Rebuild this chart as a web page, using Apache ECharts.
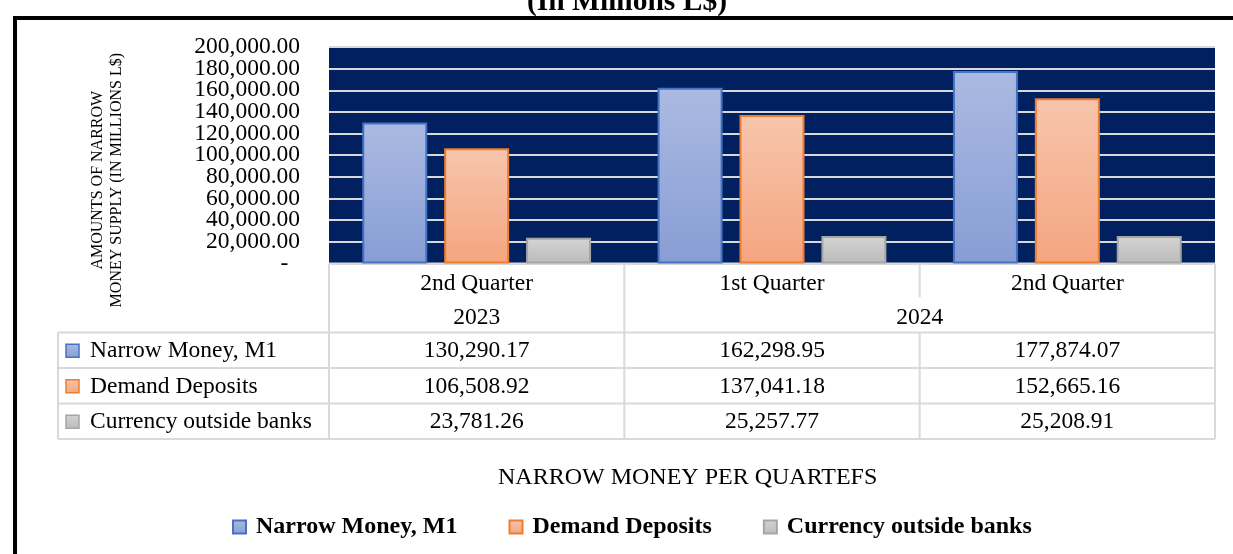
<!DOCTYPE html>
<html>
<head>
<meta charset="utf-8">
<title>Narrow Money per Quarter</title>
<script src="https://cdn.jsdelivr.net/npm/echarts@6/dist/echarts.min.js"></script>
<style>
  html, body { margin: 0; padding: 0; background: #fff; }
  #chart { width: 1233px; height: 554px; }
</style>
</head>
<body>
<div id="chart"></div>
<script>
// data
const quarters = ['2nd Quarter', '1st Quarter', '2nd Quarter'];
const years = ['2023', '2024', '2024'];
const seriesNames = ['Narrow Money, M1', 'Demand Deposits', 'Currency outside banks'];
const narrowMoney = [130290.17, 162298.95, 177874.07];
const demandDeposits = [106508.92, 137041.18, 152665.16];
const currencyOutside = [23781.26, 25257.77, 25208.91];
const yTicks = [0, 20000, 40000, 60000, 80000, 100000, 120000, 140000, 160000, 180000, 200000];

const seriesData = [narrowMoney, demandDeposits, currencyOutside];
const yMax = yTicks[yTicks.length - 1];
const yStep = yTicks[1] - yTicks[0];
const palette = [
  { top: '#abbae2', bottom: '#889dd5', border: '#4472c4' },
  { top: '#f7c5ac', bottom: '#f4a580', border: '#ed7d31' },
  { top: '#d4d4d4', bottom: '#bbbbbb', border: '#a5a5a5' }
];
const serif = "'Liberation Serif', 'Times New Roman', serif";
const fs = 23.5;
const lineColor = '#d9d9d9';

const chart = echarts.init(document.getElementById('chart'));

function fmt(v) {
  return v.toLocaleString('en-US', { minimumFractionDigits: 2, maximumFractionDigits: 2 });
}

function grad(k) {
  return new echarts.graphic.LinearGradient(0, 0, 0, 1, [
    { offset: 0, color: palette[k].top },
    { offset: 1, color: palette[k].bottom }
  ]);
}

chart.setOption({
  animation: false,
  title: [
    {
      text: '(In Millions L$)',
      left: 527,
      top: -13,
      padding: 0,
      textStyle: { fontFamily: serif, fontWeight: 'bold', fontSize: 29.5, color: '#000' }
    },
    {
      text: 'NARROW MONEY PER QUARTEFS',
      left: 498,
      top: 466,
      padding: 0,
      textStyle: { fontFamily: serif, fontWeight: 'normal', fontSize: 24, color: '#000' }
    }
  ],
  legend: {
    data: seriesNames,
    left: 232,
    top: 515,
    padding: 0,
    icon: 'rect',
    itemWidth: 13,
    itemHeight: 13,
    itemGap: 51,
    textStyle: { fontFamily: serif, fontWeight: 'bold', fontSize: 24, color: '#000', padding: [0, 0, 0, 5] }
  },
  grid: {
    left: 329,
    right: 18,
    top: 46.7,
    bottom: 290.6,
    show: true,
    backgroundColor: '#002060',
    borderWidth: 0
  },
  xAxis: {
    type: 'category',
    data: quarters.map((q, i) => q + ' ' + years[i]),
    axisLine: { show: false },
    axisTick: { show: false },
    axisLabel: {
      formatter: (v, i) => quarters[i],
      margin: 8,
      fontFamily: serif,
      fontSize: fs,
      color: '#000'
    }
  },
  yAxis: [
    {
      type: 'value',
      min: 0,
      max: yMax,
      interval: yStep,
      name: 'AMOUNTS OF NARROW\nMONEY SUPPLY (IN MILLIONS L$)',
      nameLocation: 'middle',
      nameRotate: 90,
      nameGap: 203,
      nameTextStyle: {
        fontFamily: serif,
        fontSize: 16,
        lineHeight: 19,
        color: '#000',
        padding: [0, 50, 0, 0]
      },
      axisLine: { show: false },
      axisTick: { show: false },
      axisLabel: { show: false },
      splitLine: { lineStyle: { color: lineColor, width: 2 } }
    },
    {
      // tick labels only; every tick kept (Excel shows them all)
      type: 'category',
      position: 'left',
      offset: 0,
      boundaryGap: false,
      data: yTicks.map((v) => (v === 0 ? '-  ' : fmt(v))),
      axisLine: { show: false },
      axisTick: { show: false },
      splitLine: { show: false },
      axisLabel: {
        interval: 0,
        margin: 29,
        fontFamily: serif,
        fontSize: fs,
        color: '#000'
      }
    }
  ],
  series: seriesNames.map((name, k) => ({
    name: name,
    type: 'bar',
    data: seriesData[k],
    barWidth: 65,
    barGap: '26%',
    itemStyle: {
      color: grad(k),
      borderColor: palette[k].border,
      borderWidth: 2
    },
    emphasis: { disabled: true }
  }))
});

// data table under the plot, placed from the category axis
function buildTable() {
  const els = [];
  const n = quarters.length;
  const centers = quarters.map((q, i) => chart.convertToPixel({ xAxisIndex: 0 }, i));
  const band = centers[1] - centers[0];
  const left = centers[0] - band / 2;
  const right = centers[n - 1] + band / 2;
  const tableLeft = 58;
  const top = chart.convertToPixel({ yAxisIndex: 0 }, 0);
  const yearTop = top + 34;
  const bodyTop = top + 69;
  const rowH = 35.5;
  const bottom = bodyTop + rowH * seriesNames.length;

  const line = (x1, y1, x2, y2) => els.push({
    type: 'line',
    shape: { x1: x1, y1: y1, x2: x2, y2: y2 },
    style: { stroke: lineColor, lineWidth: 2 },
    silent: true
  });
  const text = (x, y, str, align) => els.push({
    type: 'text',
    x: x,
    y: y,
    style: {
      text: str,
      fontFamily: serif,
      fontSize: fs,
      fill: '#000',
      align: align || 'center',
      verticalAlign: 'middle'
    },
    silent: true
  });

  // horizontal rules
  line(left, top, right, top);
  for (let r = 0; r <= seriesNames.length; r++) {
    line(tableLeft, bodyTop + r * rowH, right, bodyTop + r * rowH);
  }
  // vertical rules
  line(tableLeft, bodyTop, tableLeft, bottom);
  line(left, top, left, bottom);
  line(right, top, right, bottom);
  for (let i = 1; i < n; i++) {
    const x = centers[i] - band / 2;
    if (years[i] !== years[i - 1]) {
      line(x, top, x, bottom);
    } else {
      line(x, top, x, yearTop);
      line(x, bodyTop, x, bottom);
    }
  }

  // year labels spanning their quarters
  let start = 0;
  for (let i = 1; i <= n; i++) {
    if (i === n || years[i] !== years[start]) {
      const cx = (centers[start] + centers[i - 1]) / 2;
      text(cx, (yearTop + bodyTop) / 2 + 3, years[start]);
      start = i;
    }
  }

  // series rows
  seriesNames.forEach((name, k) => {
    const cy = bodyTop + rowH * k + rowH / 2 + 1;
    els.push({
      type: 'rect',
      shape: { x: tableLeft + 8, y: cy - 7, width: 13, height: 13 },
      style: { fill: grad(k), stroke: palette[k].border, lineWidth: 1.5 },
      silent: true
    });
    text(tableLeft + 32, cy, name, 'left');
    seriesData[k].forEach((v, i) => text(centers[i], cy, fmt(v)));
  });

  // outer frame
  els.push({
    type: 'rect',
    shape: { x: 15, y: 18, width: 1300, height: 600 },
    style: { fill: 'transparent', stroke: '#000', lineWidth: 4 },
    silent: true
  });

  chart.setOption({ graphic: els });
}

buildTable();
</script>
</body>
</html>
